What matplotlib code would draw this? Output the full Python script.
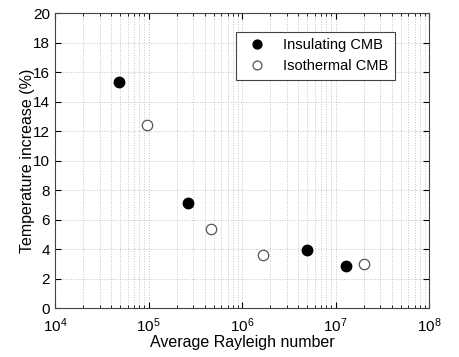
import numpy as np
import matplotlib.pyplot as plt
from matplotlib.ticker import LogLocator, NullFormatter

plt.rcParams['font.family'] = ['Liberation Sans', 'DejaVu Sans']

# data
ra_insulating = [4.8e4, 2.65e5, 4.9e6, 1.29e7]
dt_insulating = [15.3, 7.14, 3.95, 2.83]
ra_isothermal = [9.6e4, 4.7e5, 1.66e6, 2.0e7]
dt_isothermal = [12.4, 5.36, 3.59, 2.98]

fig = plt.figure(figsize=(4.59, 3.57), dpi=100)
ax = fig.add_axes([55 / 459, 1 - 308 / 357, 374 / 459, 295 / 357])

ax.plot(ra_insulating, dt_insulating, 'o', color='black', markersize=7.5,
        label='Insulating CMB')
ax.plot(ra_isothermal, dt_isothermal, 'o', markerfacecolor='white',
        markeredgecolor='#555555', markeredgewidth=0.9, markersize=7.5,
        label='Isothermal CMB')

ax.set_xscale('log')
ax.set_xlim(1e4, 1e8)
ax.set_ylim(0, 20)
ax.set_yticks(np.arange(0, 21, 2))
ax.xaxis.set_major_locator(LogLocator(base=10, numticks=10))
ax.xaxis.set_minor_locator(LogLocator(base=10, subs=np.arange(2, 10), numticks=100))
ax.xaxis.set_minor_formatter(NullFormatter())

ax.grid(True, which='both', linestyle=':', color='#c4c4c4', linewidth=0.7)
ax.tick_params(which='both', direction='in', top=True, right=True, labelsize=11)
ax.tick_params(which='major', length=4)
ax.tick_params(which='minor', length=2)
ax.tick_params(axis='x', which='major', pad=6)
for s in ax.spines.values():
    s.set_linewidth(0.8)
    s.set_color('#444444')

ax.set_xlabel('Average Rayleigh number', fontsize=11.5, labelpad=0)
ax.set_ylabel('Temperature increase (%)', fontsize=11.5, labelpad=-1)

leg = ax.legend(loc='upper right', bbox_to_anchor=(0.909, 0.936), fontsize=10.5,
                fancybox=False, framealpha=1, edgecolor='#444444',
                handletextpad=0.8, borderpad=0.45, borderaxespad=0,
                labelspacing=0.45, markerscale=0.85)
leg.get_frame().set_linewidth(0.8)

fig.savefig('out.png', dpi=100)
